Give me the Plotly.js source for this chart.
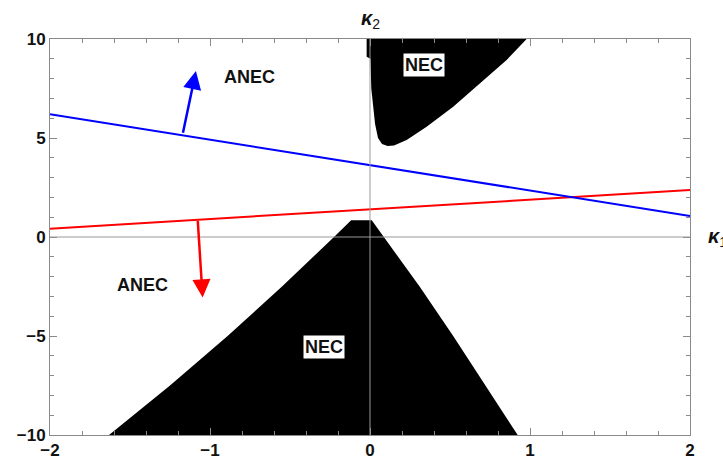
<!DOCTYPE html>
<html>
<head>
<meta charset="utf-8">
<script src="https://cdn.plot.ly/plotly-3.0.1.min.js"></script>
<style>
  html, body { margin: 0; padding: 0; background: #fff; }
  #plot { width: 723px; height: 459px; }
</style>
</head>
<body>
<div id="plot"></div>
<script>
// region where the NEC holds, upper and lower pieces
const necUpperX = [-0.021, 0.979, 0.854, 0.6875, 0.52, 0.354, 0.229, 0.15, 0.11, 0.075, 0.05, 0.032, 0.02, 0.008, 0.003, -0.021];
const necUpperY = [10, 10, 8.94, 7.76, 6.58, 5.57, 4.9, 4.62, 4.6, 4.7, 5.0, 5.7, 6.5, 7.5, 9.0, 9.1];

const necLowerX = [-1.631, -1.25, -0.89, -0.55, -0.225, -0.118, 0.011, 0.31, 0.52, 0.72, 0.923];
const necLowerY = [-10, -7.5, -5, -2.5, 0, 0.84, 0.84, -2.5, -5, -7.5, -10];

// ANEC boundary lines
const kappa1 = [-2, 2];
const anecBlue = [6.2, 1.06];
const anecRed = [0.42, 2.37];

// arrows: [base, tip]
const blueArrowX = [-1.171, -1.088];
const blueArrowY = [5.19, 8.38];
const redArrowX = [-1.077, -1.046];
const redArrowY = [0.89, -3.05];

// text labels
const labelText = ["ANEC", "ANEC", "NEC", "NEC"];
const labelX = [-0.756, -1.42, 0.34, -0.2875];
const labelY = [8.1, -2.42, 8.69, -5.54];
const labelBox = [false, false, true, true];

const xTicks = [-2, -1, 0, 1, 2];
const yTicks = [-10, -5, 0, 5, 10];

const frameColor = "#8a8a8a";
const font = "'Liberation Sans', Arial, sans-serif";

const traces = [
  {
    x: necUpperX, y: necUpperY,
    type: "scatter", mode: "lines",
    fill: "toself", fillcolor: "#000",
    line: { width: 0, color: "#000" },
    hoverinfo: "skip",
  },
  {
    x: necLowerX, y: necLowerY,
    type: "scatter", mode: "lines",
    fill: "toself", fillcolor: "#000",
    line: { width: 0, color: "#000" },
    hoverinfo: "skip",
  },
  {
    x: kappa1, y: anecRed,
    type: "scatter", mode: "lines",
    line: { color: "#ff0000", width: 2 },
  },
  {
    x: kappa1, y: anecBlue,
    type: "scatter", mode: "lines",
    line: { color: "#0000ff", width: 2 },
  },
];

function arrow(xs, ys, color) {
  return {
    x: xs[1], y: ys[1], ax: xs[0], ay: ys[0],
    xref: "x", yref: "y", axref: "x", ayref: "y",
    text: "", showarrow: true,
    arrowhead: 2, arrowsize: 1.45, arrowwidth: 2.5,
    arrowcolor: color,
  };
}

const annotations = labelText.map((t, i) => ({
  x: labelX[i], y: labelY[i], xref: "x", yref: "y",
  text: t, showarrow: false,
  font: { family: font, size: 18, color: "#111", weight: 700 },
  bgcolor: labelBox[i] ? "#fff" : "rgba(0,0,0,0)",
  borderpad: 1,
}));
annotations.push(arrow(blueArrowX, blueArrowY, "#0000ff"));
annotations.push(arrow(redArrowX, redArrowY, "#ff0000"));
// axis labels
annotations.push({
  x: 0, y: 1, xref: "x", yref: "paper", yshift: 20,
  yanchor: "middle",
  text: "<b><i>κ</i></b><sub>2</sub>", showarrow: false,
  font: { family: font, size: 20, color: "#111" },
});
annotations.push({
  x: 1, y: 0, xref: "paper", yref: "y", xshift: 16,
  xanchor: "left", yanchor: "middle",
  text: "<b><i>κ</i></b><sub>1</sub>", showarrow: false,
  font: { family: font, size: 20, color: "#111" },
});

const axisCommon = {
  showgrid: false,
  zeroline: false,
  showline: true,
  linecolor: frameColor,
  linewidth: 1,
  mirror: "allticks",
  ticks: "inside",
  ticklen: 7,
  tickcolor: frameColor,
  tickfont: { family: font, size: 17, color: "#111", weight: 700 },
  fixedrange: true,
};

const layout = {
  width: 723,
  height: 459,
  margin: { l: 50, r: 33, t: 39, b: 24 },
  paper_bgcolor: "#fff",
  plot_bgcolor: "#fff",
  showlegend: false,
  xaxis: Object.assign({}, axisCommon, {
    range: [-2, 2],
    tickvals: xTicks,
    minor: { ticks: "inside", dtick: 0.2, ticklen: 4, tickcolor: frameColor, showgrid: false },
  }),
  yaxis: Object.assign({}, axisCommon, {
    range: [-10, 10],
    tickvals: yTicks,
    minor: { ticks: "inside", dtick: 1, ticklen: 4, tickcolor: frameColor, showgrid: false },
  }),
  shapes: [
    { type: "line", xref: "x", yref: "paper", x0: 0, x1: 0, y0: 0, y1: 1, line: { color: "#999", width: 1 }, layer: "above" },
    { type: "line", xref: "paper", yref: "y", x0: 0, x1: 1, y0: 0, y1: 0, line: { color: "#999", width: 1 }, layer: "above" },
  ],
  annotations: annotations,
};

Plotly.newPlot("plot", traces, layout, { displayModeBar: false, staticPlot: true });
</script>
</body>
</html>
